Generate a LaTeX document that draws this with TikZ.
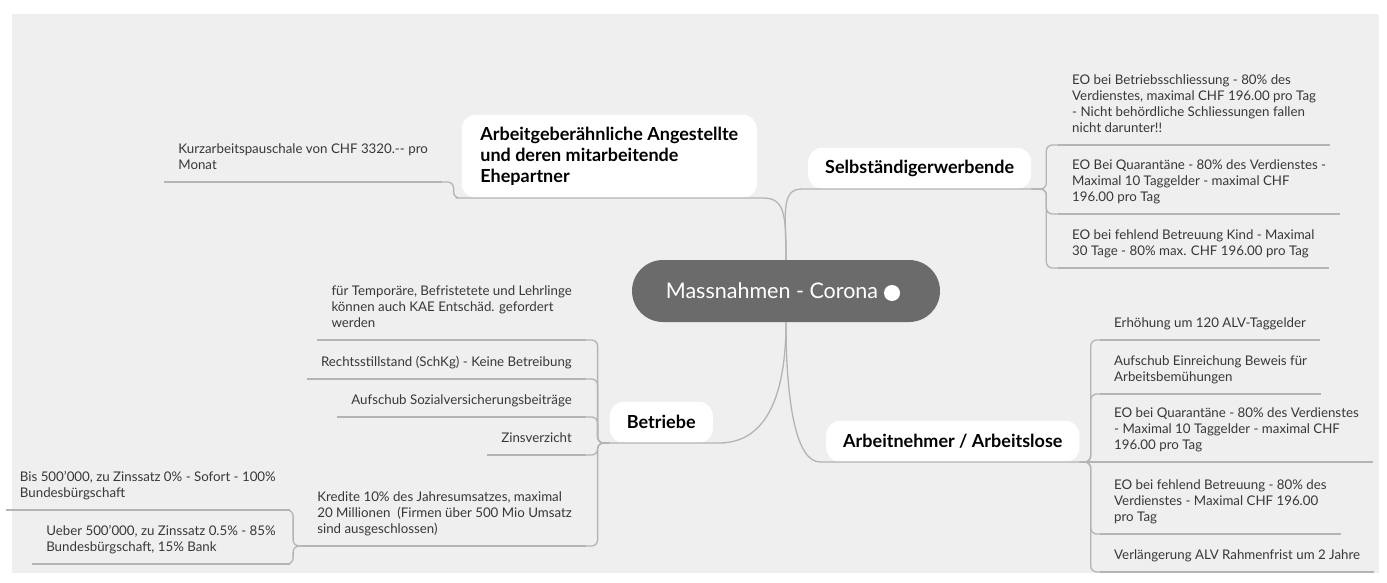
\documentclass[tikz,border=0pt]{standalone}
\usepackage{fontspec}
\setmainfont{Lato}
\usetikzlibrary{positioning}
\definecolor{panel}{HTML}{EFEFEF}
\definecolor{rootgray}{HTML}{6B6B6B}
\definecolor{linegray}{HTML}{B4B4B4}
\definecolor{leaftext}{HTML}{383838}
\newcommand{\leaffont}{\fontsize{13.3}{16}\selectfont}
\newcommand{\topicfont}{\fontsize{18}{21}\selectfont\bfseries}
\tikzstyle{root}=[fill=rootgray, text=white, rounded corners=31pt, minimum width=308pt, minimum height=62pt, font=\fontsize{21.5}{24}\selectfont]
\tikzstyle{rootdot}=[circle, fill=white, inner sep=0pt, minimum size=16pt]
\tikzstyle{topic}=[fill=white, rounded corners=14pt, align=left, inner xsep=17pt, inner ysep=8pt, minimum height=41pt, font=\topicfont]
\tikzstyle{leaf}=[inner xsep=14pt, inner ysep=9pt, text depth=3pt, text=leaftext, font=\leaffont]
\tikzstyle{branch}=[draw=linegray, line width=1.3pt, rounded corners=6pt]

\begin{document}
\begin{tikzpicture}[x=1pt, y=-1pt]
  \useasboundingbox (0, 0) rectangle (1387, 583);
  \fill [white] (0, 0) rectangle (1387, 583);
  \fill [panel] (12, 14) rectangle (1379, 573);

  \node [root] at (786, 291) (root) {Massnahmen - Corona\hspace{28pt}\null};
  \node [rootdot] at (892, 293) (rootdot) {};

  \node [topic, anchor=south east, minimum width=295pt, minimum height=83pt] at (757, 198) (agb) {Arbeitgeberähnliche Angestellte\\und deren mitarbeitende\\Ehepartner};
  \node [topic, anchor=south west, minimum width=222pt] at (808, 189) (selb) {Selbständigerwerbende};
  \node [topic, anchor=south east, minimum width=103pt] at (713, 443) (betr) {Betriebe};
  \node [topic, anchor=south west, minimum width=251pt] at (826, 462) (arbn) {Arbeitnehmer / Arbeitslose};

  \node [leaf, align=left, anchor=south east] at (442, 182) (kurz) {Kurzarbeitspauschale von CHF 3320.-{}- pro\\Monat};

  \node [leaf, align=left, anchor=south west] at (1058, 145) (selb1) {EO bei Betriebsschliessung - 80\% des\\Verdienstes, maximal CHF 196.00 pro Tag\\- Nicht behördliche Schliessungen fallen\\nicht darunter!!};
  \node [leaf, align=left, anchor=south west] at (1058, 214) (selb2) {EO Bei Quarantäne - 80\% des Verdienstes -\\Maximal 10 Taggelder - maximal CHF\\196.00 pro Tag};
  \node [leaf, align=left, anchor=south west] at (1058, 268) (selb3) {EO bei fehlend Betreuung Kind - Maximal\\30 Tage - 80\% max. CHF 196.00 pro Tag};

  \node [leaf, align=left, anchor=south west] at (1100, 340) (arbn1) {Erhöhung um 120 ALV-Taggelder};
  \node [leaf, align=left, anchor=south west] at (1100, 394) (arbn2) {Aufschub Einreichung Beweis für\\Arbeitsbemühungen};
  \node [leaf, align=left, anchor=south west] at (1100, 462) (arbn3) {EO bei Quarantäne - 80\% des Verdienstes\\- Maximal 10 Taggelder - maximal CHF\\196.00 pro Tag};
  \node [leaf, align=left, anchor=south west] at (1100, 534) (arbn4) {EO bei fehlend Betreuung - 80\% des\\Verdienstes - Maximal CHF 196.00\\pro Tag};
  \node [leaf, align=left, anchor=south west] at (1100, 572) (arbn5) {Verlängerung ALV Rahmenfrist um 2 Jahre};

  \node [leaf, align=left, anchor=south east] at (586, 340) (betr1) {für Temporäre, Befristetete und Lehrlinge\\können auch KAE Entschäd. gefordert\\werden};
  \node [leaf, align=right, anchor=south east] at (586, 379) (betr2) {Rechtsstillstand (SchKg) - Keine Betreibung};
  \node [leaf, align=right, anchor=south east] at (586, 417) (betr3) {Aufschub Sozialversicherungsbeiträge};
  \node [leaf, align=right, anchor=south east] at (586, 455) (betr4) {Zinsverzicht};
  \node [leaf, align=left, anchor=south east] at (586, 546) (betr5) {Kredite 10\% des Jahresumsatzes, maximal\\20 Millionen~ (Firmen über 500 Mio Umsatz\\sind ausgeschlossen)};

  \node [leaf, align=left, anchor=south east] at (290, 510) (kred1) {Bis 500'000, zu Zinssatz 0\% - Sofort - 100\%\\Bundesbürgschaft};
  \node [leaf, align=left, anchor=south east] at (290, 564) (kred2) {Ueber 500'000, zu Zinssatz 0.5\% - 85\%\\Bundesbürgschaft, 15\% Bank};

  % underlines of the leaves
  \foreach \n in {kurz,selb1,selb2,selb3,arbn1,arbn2,arbn3,arbn4,arbn5,betr1,betr2,betr3,betr4,betr5,kred1,kred2}
    \draw [branch] (\n.south west) -- (\n.south east);

  % main branches
  \draw [branch] (root.north) .. controls +(0, -45) and +(28, 0) .. (agb.south east) -- (agb.south west) -- ++(-8, 0) |- (kurz.south east);
  \draw [branch] (root.north) .. controls +(0, -45) and +(-28, 0) .. (selb.south west) -- (selb.south east);
  \draw [branch] (root.south) .. controls +(0, 70) and +(55, 0) .. (betr.south east) -- (betr.south west);
  \draw [branch] (root.south) .. controls +(0, 80) and +(-30, 0) .. (arbn.south west) -- (arbn.south east);

  \foreach \n in {selb1,selb2,selb3}
    \draw [branch] (selb.south east) -- ++(15, 0) |- (\n.south west);
  \foreach \n in {arbn1,arbn2,arbn4,arbn5}
    \draw [branch] (arbn.south east) -- ++(11, 0) |- (\n.south west);
  \draw [branch] (arbn.south east) -- (arbn3.south west);
  \foreach \n in {betr1,betr2,betr3,betr4,betr5}
    \draw [branch] (betr.south west) -- ++(-12, 0) |- (\n.south east);
  \foreach \n in {kred1,kred2}
    \draw [branch] (betr5.south west) -- ++(-10, 0) |- (\n.south east);
\end{tikzpicture}
\end{document}
